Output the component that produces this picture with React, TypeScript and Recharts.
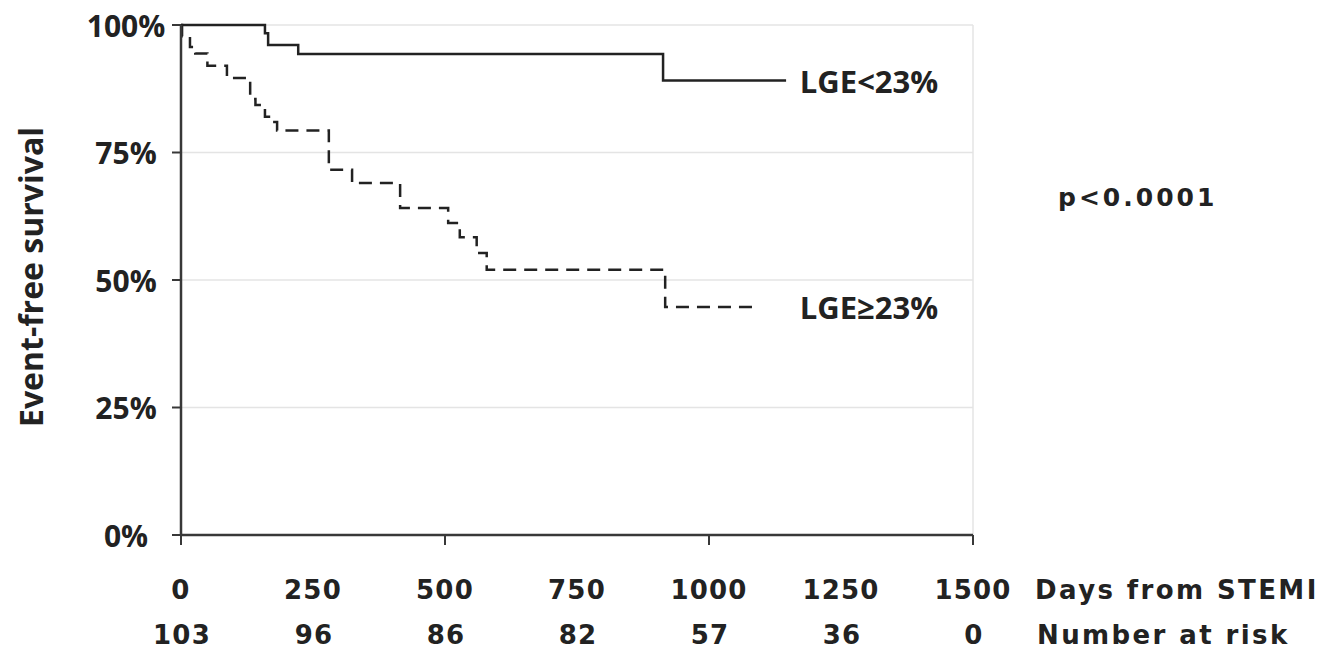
import React from 'react';
import { ComposedChart, Line, XAxis, YAxis, CartesianGrid, ReferenceLine, ReferenceDot, Customized } from 'recharts';

// Ticks and number at risk
const dayTicks = [0, 250, 500, 750, 1000, 1250, 1500];
const numberAtRisk = [103, 96, 86, 82, 57, 36, 0];
const survivalTicks = [0, 25, 50, 75, 100];

// LGE<23% (solid)
const lowLgeDays = [0, 159, 165, 222, 913, 1146];
const lowLgeSurvival = [100, 98.4, 96.1, 94.3, 89.1, 89.1];

// LGE>=23% (dashed)
const highLgeDays = [0, 2, 17, 27, 50, 87, 131, 141, 159, 170, 182, 280, 324, 415, 506, 528, 560, 579, 917, 1083];
const highLgeSurvival = [100, 97.8, 95.7, 94.4, 92, 89.6, 85.5, 84.3, 82, 81, 79.3, 71.6, 69, 64.1, 61.2, 58.4, 55.3, 52, 44.7, 44.7];

const labelDay = 1172;
const lowLabel = 'LGE<23%';
const highLabel = 'LGE\u226523%';
const pValue = 'p<0.0001';
const xTitle = 'Days from STEMI';
const riskTitle = 'Number at risk';

const lowData = lowLgeDays.map((d, i) => ({ day: d, s: lowLgeSurvival[i] }));
const highData = highLgeDays.map((d, i) => ({ day: d, s: highLgeSurvival[i] }));

const INK = '#222222';
const AXIS = '#383838';
const GRID = '#e4e4e4';
const BOLD_FONT = '"Open Sans", "DejaVu Sans", sans-serif';
const PLAIN_FONT = '"DejaVu Sans", sans-serif';

function XTick(props: any) {
  const { x, y, payload } = props;
  const v = payload.value;
  const i = dayTicks.indexOf(v);
  const last = i === dayTicks.length - 1;
  const textStyle = { fontFamily: PLAIN_FONT, fontWeight: 700, fontSize: 26, letterSpacing: 1.2, fill: INK } as any;
  const wordStyle = { ...textStyle, letterSpacing: 2.4 };
  return (
    <g>
      {v % 500 === 0 && <line x1={x} x2={x} y1={y} y2={y + 10} stroke={AXIS} strokeWidth={2} />}
      <text x={x} y={y + 55} textAnchor="middle" dominantBaseline="central" {...textStyle}>{v}</text>
      <text x={x + 1} y={y + 100} textAnchor="middle" dominantBaseline="central" {...textStyle}>{numberAtRisk[i]}</text>
      {last && (
        <>
          <text x={x + 62} y={y + 55} textAnchor="start" dominantBaseline="central" {...wordStyle}>{xTitle}</text>
          <text x={x + 64} y={y + 100} textAnchor="start" dominantBaseline="central" {...wordStyle}>{riskTitle}</text>
        </>
      )}
    </g>
  );
}

function YTick(props: any) {
  const { x, y, payload } = props;
  return (
    <g>
      <line x1={x - 9} x2={x} y1={y} y2={y} stroke={AXIS} strokeWidth={2} />
      <text x={x - 55} y={y} textAnchor="middle" dominantBaseline="central"
        fontFamily={BOLD_FONT} fontWeight={700} fontSize={30} fill={INK}>{payload.value}%</text>
    </g>
  );
}

function endLabel(text: string) {
  return (props: any) => {
    const vb = props.viewBox || {};
    const cx = vb.x + (vb.width || 0) / 2;
    const cy = vb.y + (vb.height || 0) / 2;
    return (
      <text x={cx} y={cy} textAnchor="start" dominantBaseline="central"
        fontFamily={BOLD_FONT} fontWeight={700} fontSize={31} fill={INK}>{text}</text>
    );
  };
}

function Extras() {
  return (
    <g>
      <text transform="translate(30,277) rotate(-90)" textAnchor="middle" dominantBaseline="central"
        fontFamily={BOLD_FONT} fontWeight={700} fontSize={32} fill={INK}>Event-free survival</text>
      <text x={1058} y={197} textAnchor="start" dominantBaseline="central"
        fontFamily={PLAIN_FONT} fontWeight={700} fontSize={25} letterSpacing={3} fill={INK}>{pValue}</text>
    </g>
  );
}

export default function App() {
  return (
    <div style={{ position: 'absolute', left: 0, top: 0, width: 1323, height: 651, background: '#fff' }}>
      <ComposedChart width={1323} height={651} margin={{ top: 25, right: 350, bottom: 86, left: 121 }}>
        <CartesianGrid vertical={false} stroke={GRID} strokeWidth={1.5} />
        <ReferenceLine x={1500} stroke={GRID} strokeWidth={1.5} />
        <XAxis type="number" dataKey="day" domain={[0, 1500]} ticks={dayTicks} interval={0}
          height={30} tickSize={0} tickMargin={0} tickLine={false}
          axisLine={{ stroke: AXIS, strokeWidth: 2.5 }} tick={<XTick />} allowDuplicatedCategory={false} />
        <YAxis type="number" domain={[0, 100]} ticks={survivalTicks} interval={0}
          width={60} tickSize={0} tickMargin={0} tickLine={false}
          axisLine={{ stroke: AXIS, strokeWidth: 2.5 }} tick={<YTick />} />
        <Line data={lowData} dataKey="s" type="stepAfter" stroke={INK} strokeWidth={2.5}
          dot={false} activeDot={false} isAnimationActive={false} />
        <Line data={highData} dataKey="s" type="stepAfter" stroke={INK} strokeWidth={2.5}
          strokeDasharray="13 8" dot={false} activeDot={false} isAnimationActive={false} />
        <ReferenceDot x={labelDay} y={lowLgeSurvival[lowLgeSurvival.length - 1]} r={1}
          fill="none" stroke="none" label={endLabel(lowLabel)} />
        <ReferenceDot x={labelDay} y={highLgeSurvival[highLgeSurvival.length - 1]} r={1}
          fill="none" stroke="none" label={endLabel(highLabel)} />
        <Customized component={Extras} />
      </ComposedChart>
    </div>
  );
}
